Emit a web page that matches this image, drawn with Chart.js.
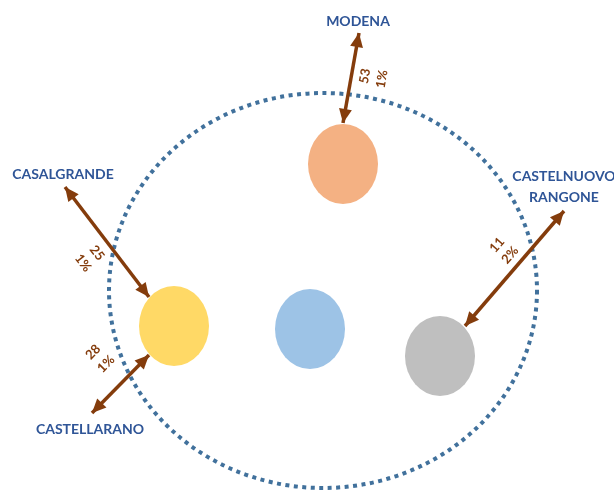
<!DOCTYPE html>
<html>
<head>
<meta charset="utf-8">
<script src="https://cdn.jsdelivr.net/npm/chart.js@4/dist/chart.umd.min.js"></script>
<style>
  html, body { margin: 0; padding: 0; background: #fff; }
  #wrap { width: 614px; height: 490px; }
</style>
</head>
<body>
<div id="wrap"><canvas id="c" width="614" height="490"></canvas></div>
<script>
// ---------- DATA (diagram units: 614 x 490 board) ----------
const sites   = ["MODENA", "CASALGRANDE", "CASTELLARANO", "CASTELNUOVO\nRANGONE"];
const counts  = [53, 25, 28, 11];
const shares  = ["1%", "1%", "1%", "2%"];

// arrow ends: outer (label side) -> inner (blob side)
const arrowOuterX = [359, 65, 92, 564];
const arrowOuterY = [33, 187, 413, 211];
const arrowInnerX = [343, 149, 149, 465];
const arrowInnerY = [123, 297, 355, 326];

// town name anchors
const nameX = [358, 63, 90, 564];
const nameY = [21, 174, 429, 176];

// count / share label anchors
const countX = [365, 97, 93, 497];
const countY = [76, 253, 352, 245];
const shareX = [382, 83, 106, 510];
const shareY = [79, 263, 364, 255];

// blobs
const blobX  = [343, 174, 310, 440];
const blobY  = [164, 326, 329, 356];
const blobRx = [35, 35, 35, 35];
const blobRy = [40, 40, 40, 40];
const blobColors = ["#F4B183", "#FFD966", "#9DC3E6", "#BFBFBF"];

// dotted boundary
const ringX = [323], ringY = [290.5], ringRx = [214], ringRy = [197.5];

const BROWN = "#843C0C";
const NAVY  = "#2F5597";
const RING  = "#41719C";

// ---------- PLUGIN ----------
const diagram = {
  id: "diagram",
  beforeDatasetsDraw(chart) {
    const { ctx, scales: { x, y } } = chart;
    ctx.save();
    // ring
    const cx = x.getPixelForValue(ringX[0]), cy = y.getPixelForValue(ringY[0]);
    const rx = Math.abs(x.getPixelForValue(ringX[0] + ringRx[0]) - cx);
    const ry = Math.abs(y.getPixelForValue(ringY[0] + ringRy[0]) - cy);
    ctx.strokeStyle = RING;
    ctx.lineWidth = 4;
    ctx.setLineDash([4, 4.5]);
    ctx.beginPath();
    ctx.ellipse(cx, cy, rx, ry, 0, 0, Math.PI * 2);
    ctx.stroke();
    ctx.setLineDash([]);
    // blobs
    blobX.forEach((bx, i) => {
      const px = x.getPixelForValue(bx), py = y.getPixelForValue(blobY[i]);
      const prx = Math.abs(x.getPixelForValue(bx + blobRx[i]) - px);
      const pry = Math.abs(y.getPixelForValue(blobY[i] + blobRy[i]) - py);
      ctx.fillStyle = blobColors[i];
      ctx.beginPath();
      ctx.ellipse(px, py, prx, pry, 0, 0, Math.PI * 2);
      ctx.fill();
    });
    ctx.restore();
  },
  afterDatasetsDraw(chart) {
    const { ctx, scales: { x, y } } = chart;
    ctx.save();
    // arrowheads on both ends of each arrow dataset
    sites.forEach((s, i) => {
      const pts = chart.getDatasetMeta(i).data;
      const a = pts[0], b = pts[1];
      [[a, b], [b, a]].forEach(([tip, from]) => {
        const ang = Math.atan2(tip.y - from.y, tip.x - from.x);
        const L = 14, W = 6.5;
        ctx.fillStyle = BROWN;
        ctx.beginPath();
        ctx.moveTo(tip.x, tip.y);
        ctx.lineTo(tip.x - L * Math.cos(ang) + W * Math.sin(ang), tip.y - L * Math.sin(ang) - W * Math.cos(ang));
        ctx.lineTo(tip.x - L * Math.cos(ang) - W * Math.sin(ang), tip.y - L * Math.sin(ang) + W * Math.cos(ang));
        ctx.closePath();
        ctx.fill();
      });
      // rotated count / share labels, read along the arrow
      let ang = Math.atan2(b.y - a.y, b.x - a.x);
      if (ang > Math.PI / 2) ang -= Math.PI;
      if (ang < -Math.PI / 2) ang += Math.PI;
      ctx.fillStyle = BROWN;
      ctx.font = "bold 13px Lato, 'Open Sans', sans-serif";
      ctx.textAlign = "center";
      ctx.textBaseline = "middle";
      [[countX[i], countY[i], String(counts[i])], [shareX[i], shareY[i], shares[i]]].forEach(([lx, ly, t]) => {
        ctx.save();
        ctx.translate(x.getPixelForValue(lx), y.getPixelForValue(ly));
        ctx.rotate(ang);
        ctx.fillText(t, 0, 0);
        ctx.restore();
      });
      // town names
      ctx.fillStyle = NAVY;
      ctx.font = "bold 14px Lato, 'Open Sans', sans-serif";
      s.split("\n").forEach((line, k) => {
        ctx.fillText(line, x.getPixelForValue(nameX[i]), y.getPixelForValue(nameY[i] + k * 21));
      });
    });
    ctx.restore();
  }
};

// ---------- CHART ----------
const arrowSets = sites.map((s, i) => ({
  label: s,
  data: [{ x: arrowOuterX[i], y: arrowOuterY[i] }, { x: arrowInnerX[i], y: arrowInnerY[i] }],
  showLine: true,
  borderColor: BROWN,
  borderWidth: 3.5,
  pointRadius: 0,
  clip: false
}));

new Chart(document.getElementById("c"), {
  type: "scatter",
  data: { datasets: arrowSets },
  options: {
    responsive: false,
    animation: false,
    layout: { padding: 0 },
    plugins: { legend: { display: false }, tooltip: { enabled: false } },
    scales: {
      x: { type: "linear", min: 0, max: 614, display: false },
      y: { type: "linear", min: 0, max: 490, reverse: true, display: false }
    }
  },
  plugins: [diagram]
});
</script>
</body>
</html>
